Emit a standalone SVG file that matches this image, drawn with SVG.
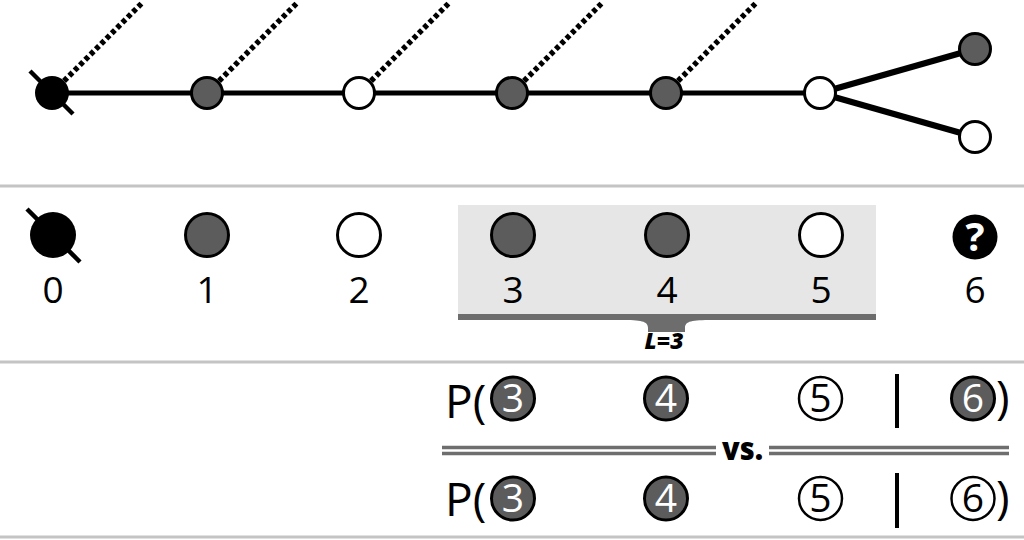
<svg xmlns="http://www.w3.org/2000/svg" width="1024" height="540" viewBox="0 0 1024 540">
<style>
.sep{stroke:#c4c4c4;stroke-width:3}
.edge{stroke:#000;stroke-width:5;fill:none}
.branch{stroke:#000;stroke-width:6}
.dot{stroke:#000;stroke-width:5.5;stroke-dasharray:4.5 3}
.slash{stroke:#000;stroke-width:4.5}
.g{fill:#5c5c5d;stroke:#000;stroke-width:3}
.w{fill:#fff;stroke:#000;stroke-width:3}
.wt{fill:#fff;stroke:#000;stroke-width:2.5}
.b{fill:#000}
.lbl{font-family:"Open Sans","Noto Sans",sans-serif;font-size:37px;text-anchor:middle;fill:#000}
.eq{font-family:"Open Sans","Noto Sans",sans-serif;font-size:46px;fill:#000}
.cdw{font-family:"Open Sans","Noto Sans",sans-serif;font-size:39px;text-anchor:middle;fill:#fff}
.cdb{font-family:"Open Sans","Noto Sans",sans-serif;font-size:39px;text-anchor:middle;fill:#000}
.dbl{stroke:#6e6e6f;stroke-width:3.5}
.bar{stroke:#000;stroke-width:4}
.q{font-family:"Open Sans","Noto Sans",sans-serif;font-size:40px;font-weight:700;text-anchor:middle;fill:#fff}
</style>
<rect width="1024" height="540" fill="#fff"/>
<g id="separators">
<line class="sep" x1="0" y1="186" x2="1024" y2="186"/>
<line class="sep" x1="0" y1="362" x2="1024" y2="362"/>
<line class="sep" x1="0" y1="537" x2="1024" y2="537"/>
</g>
<g id="connectors">
<line class="edge" x1="52" y1="93" x2="820" y2="93"/>
<line class="branch" x1="820" y1="93" x2="975" y2="49"/>
<line class="branch" x1="820" y1="93" x2="975" y2="137"/>
<line class="dot" x1="64" y1="81" x2="142" y2="3"/>
<line class="dot" x1="219" y1="81" x2="297" y2="3"/>
<line class="dot" x1="371" y1="81" x2="449" y2="3"/>
<line class="dot" x1="524" y1="81" x2="602" y2="3"/>
<line class="dot" x1="678" y1="81" x2="756" y2="3"/>
</g>
<g id="top-node-0"><circle class="b" cx="52" cy="93" r="17"/><line class="slash" x1="30" y1="71" x2="73" y2="114"/></g>
<g id="top-node-1"><circle class="g" cx="207" cy="93" r="15.5"/></g>
<g id="top-node-2"><circle class="w" cx="359" cy="93" r="15.5"/></g>
<g id="top-node-3"><circle class="g" cx="512" cy="93" r="15.5"/></g>
<g id="top-node-4"><circle class="g" cx="666" cy="93" r="15.5"/></g>
<g id="top-node-5"><circle class="w" cx="820" cy="93" r="15.5"/></g>
<g id="top-node-6a"><circle class="g" cx="975" cy="49" r="15.5"/></g>
<g id="top-node-6b"><circle class="w" cx="975" cy="137" r="15.5"/></g>

<g id="window">
<rect x="458" y="205" width="418" height="112" fill="#e6e6e6"/>
<path d="M458,314 H876 V320 H712 C692,320 685,321 685,328 V332 H648 V328 C648,321 641,320 621,320 H458 Z" fill="#6d6d6e"/>
<text x="664" y="349" font-family="Open Sans, Noto Sans, sans-serif" font-size="22" font-weight="800" font-style="italic" text-anchor="middle" textLength="39" lengthAdjust="spacingAndGlyphs">L=3</text>
</g>
<g id="mid-node-0"><circle class="b" cx="53" cy="235" r="23"/><line class="slash" x1="27" y1="209" x2="80" y2="262"/><text class="lbl" x="53" y="303">0</text></g>
<g id="mid-node-1"><circle class="g" cx="207" cy="235" r="21.5"/><text class="lbl" x="207" y="303">1</text></g>
<g id="mid-node-2"><circle class="w" cx="359" cy="235" r="21.5"/><text class="lbl" x="359" y="303">2</text></g>
<g id="mid-node-3"><circle class="g" cx="513" cy="235" r="21.5"/><text class="lbl" x="513" y="303">3</text></g>
<g id="mid-node-4"><circle class="g" cx="667" cy="235" r="21.5"/><text class="lbl" x="667" y="303">4</text></g>
<g id="mid-node-5"><circle class="w" cx="821" cy="235" r="21.5"/><text class="lbl" x="821" y="303">5</text></g>
<g id="mid-node-6"><circle class="b" cx="975" cy="237" r="22.5"/><text class="q" x="975" y="251">?</text><text class="lbl" x="975" y="303">6</text></g>

<g id="formula-1">
<text class="eq" x="445" y="418">P(</text>
<circle class="g" cx="513" cy="398.5" r="21.5"/><text class="cdw" x="513" y="412">3</text>
<circle class="g" cx="666" cy="398.5" r="21.5"/><text class="cdw" x="666" y="412">4</text>
<circle class="wt" cx="820.5" cy="398.5" r="21.5"/><text class="cdb" x="820.5" y="412">5</text>
<line class="bar" x1="897" y1="374" x2="897" y2="428"/>
<circle class="g" cx="973" cy="398.5" r="21.5"/><text class="cdw" x="973" y="412">6</text>
<text class="eq" x="996" y="414">)</text>
</g>
<g id="vs">
<line class="dbl" x1="442" y1="447.5" x2="716" y2="447.5"/>
<line class="dbl" x1="442" y1="453.5" x2="716" y2="453.5"/>
<line class="dbl" x1="769" y1="447.5" x2="1009" y2="447.5"/>
<line class="dbl" x1="769" y1="453.5" x2="1009" y2="453.5"/>
<text x="722" y="460" font-family="Open Sans, Noto Sans, sans-serif" font-size="32" font-weight="800" textLength="41" lengthAdjust="spacingAndGlyphs">vs.</text>
</g>
<g id="formula-2">
<text class="eq" x="445" y="516">P(</text>
<circle class="g" cx="513" cy="498.5" r="21.5"/><text class="cdw" x="513" y="512">3</text>
<circle class="g" cx="666" cy="498.5" r="21.5"/><text class="cdw" x="666" y="512">4</text>
<circle class="wt" cx="820.5" cy="498.5" r="21.5"/><text class="cdb" x="820.5" y="512">5</text>
<line class="bar" x1="897" y1="473" x2="897" y2="528"/>
<circle class="wt" cx="973" cy="498.5" r="21.5"/><text class="cdb" x="973" y="512">6</text>
<text class="eq" x="996" y="514">)</text>
</g>
</svg>
